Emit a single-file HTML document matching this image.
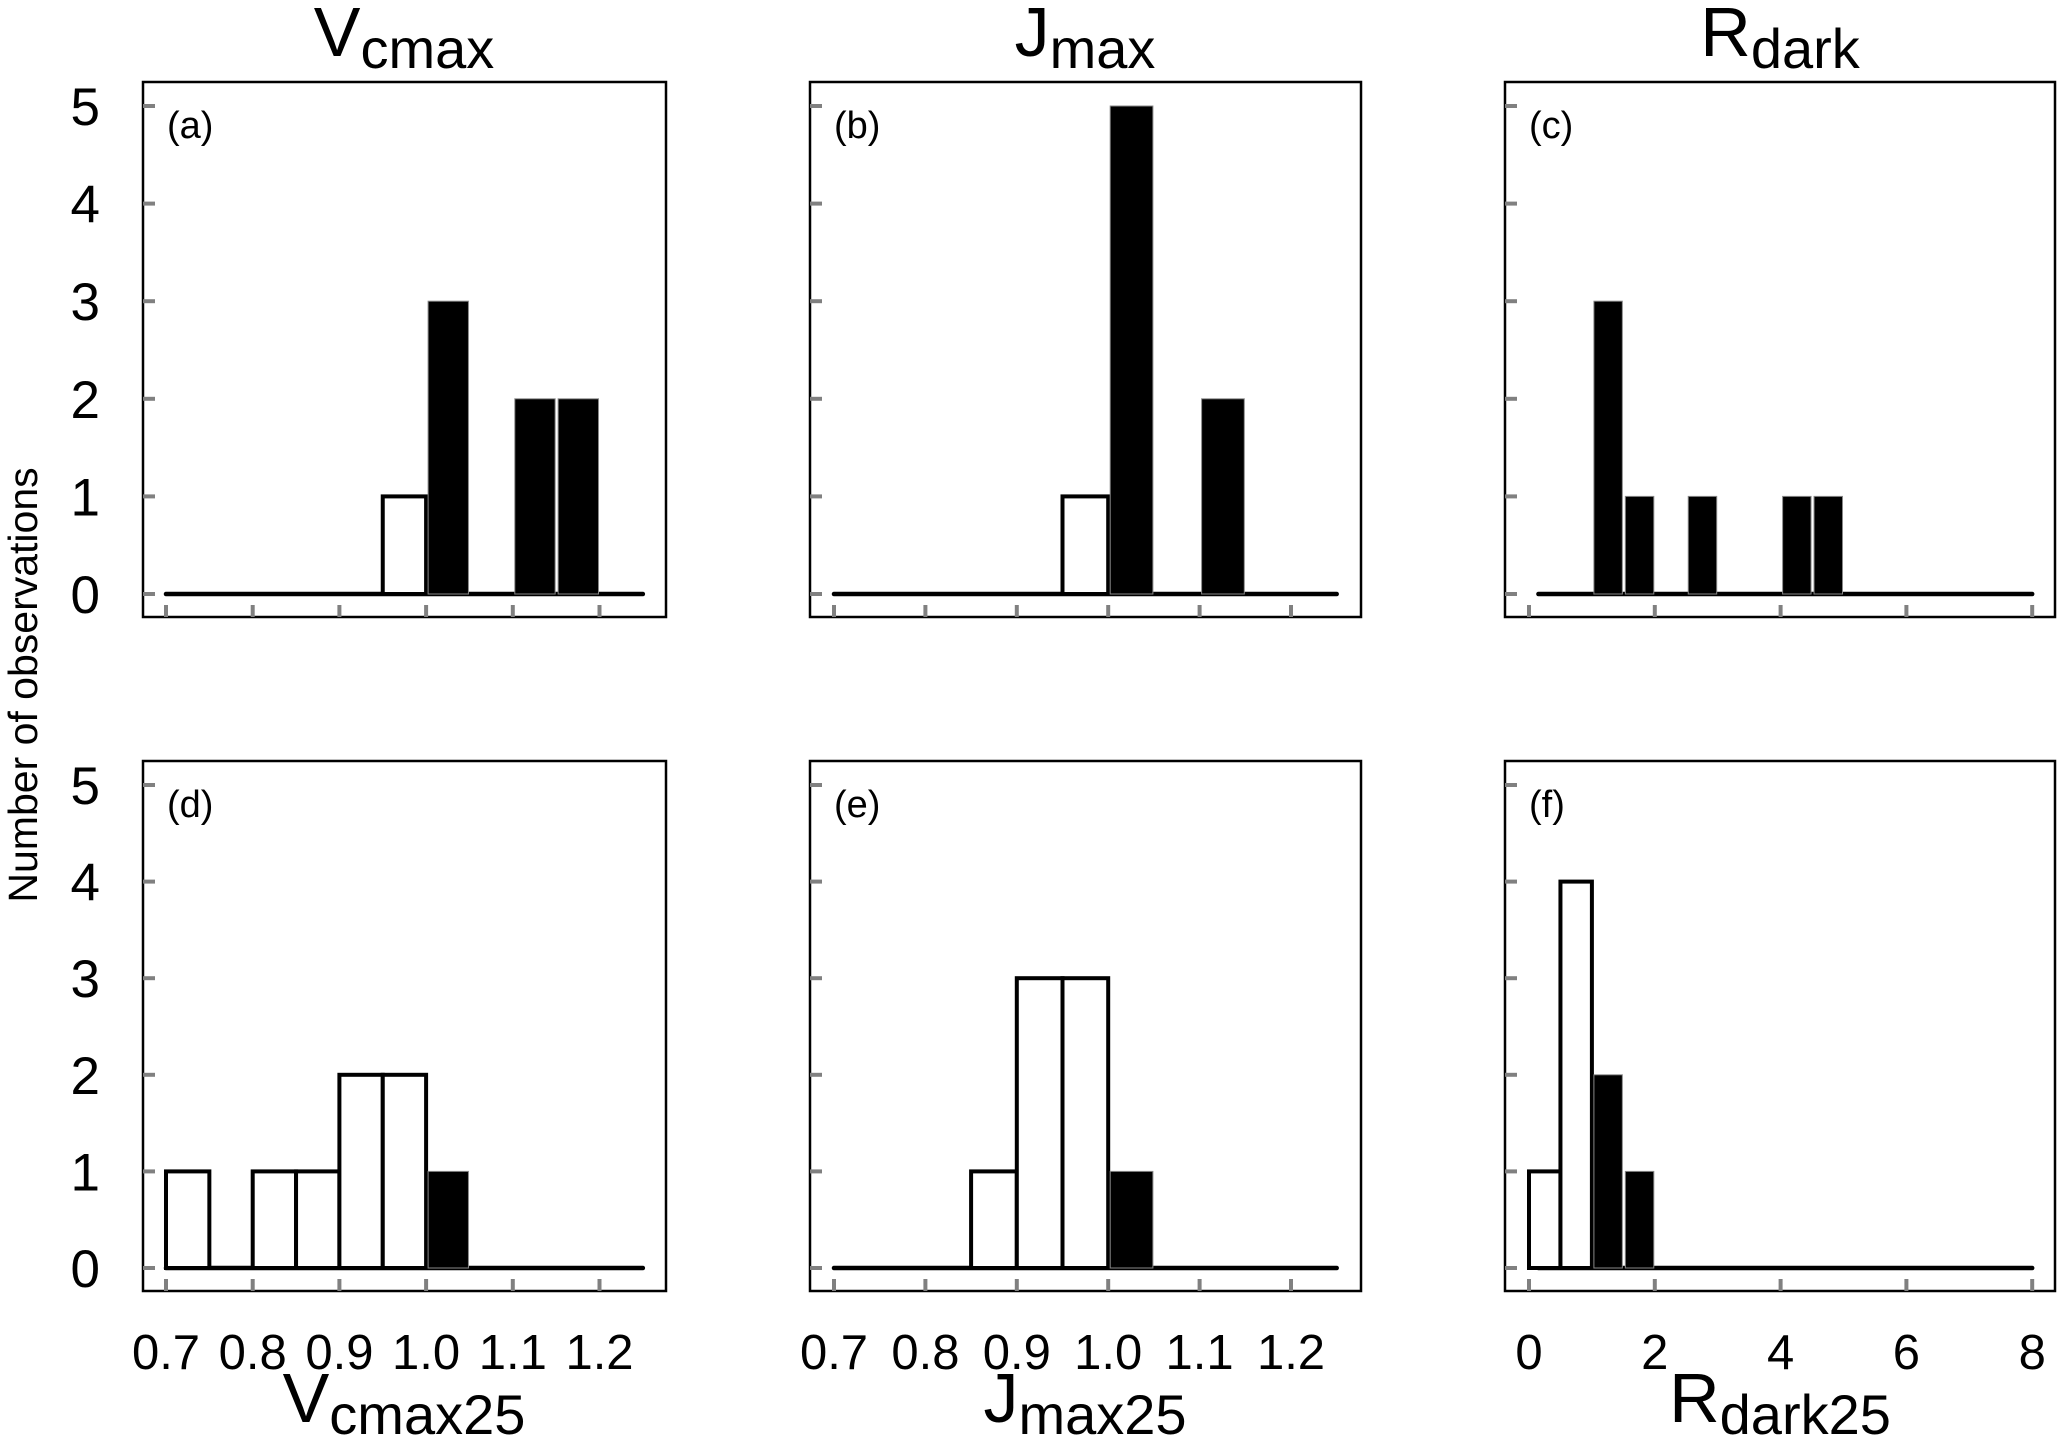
<!DOCTYPE html>
<html><head><meta charset="utf-8"><style>
html,body{margin:0;padding:0;background:#fff;}
svg{display:block;font-family:"Liberation Sans",Arial,sans-serif;}
</style></head><body>
<svg id="fig" width="2067" height="1451" viewBox="0 0 2067 1451" xmlns="http://www.w3.org/2000/svg">
<text transform="translate(37,685) rotate(-90)" text-anchor="middle" font-size="41">Number of observations</text>
</svg>
<script>
// ---- data ----
const yTicks = [0,1,2,3,4,5];
const ratioTickLabels = ["0.7","0.8","0.9","1.0","1.1","1.2"];
const ratioTicks = [0.7,0.8,0.9,1.0,1.1,1.2];
const rdarkTicks = [0,2,4,6,8];
const rdarkTickLabels = ["0","2","4","6","8"];
// bars: start, end, count, filled(1)/open(0)
const barsA_start = [0.95,1.00,1.10,1.15];
const barsA_end   = [1.00,1.05,1.15,1.20];
const barsA_count = [1,3,2,2];
const barsA_fill  = [0,1,1,1];
const barsB_start = [0.95,1.00,1.10];
const barsB_end   = [1.00,1.05,1.15];
const barsB_count = [1,5,2];
const barsB_fill  = [0,1,1];
const barsC_start = [1.0,1.5,2.5,4.0,4.5];
const barsC_end   = [1.5,2.0,3.0,4.5,5.0];
const barsC_count = [3,1,1,1,1];
const barsC_fill  = [1,1,1,1,1];
const barsD_start = [0.70,0.80,0.85,0.90,0.95,1.00];
const barsD_end   = [0.75,0.85,0.90,0.95,1.00,1.05];
const barsD_count = [1,1,1,2,2,1];
const barsD_fill  = [0,0,0,0,0,1];
const barsE_start = [0.85,0.90,0.95,1.00];
const barsE_end   = [0.90,0.95,1.00,1.05];
const barsE_count = [1,3,3,1];
const barsE_fill  = [0,0,0,1];
const barsF_start = [0.0,0.5,1.0,1.5];
const barsF_end   = [0.5,1.0,1.5,2.0];
const barsF_count = [1,4,2,1];
const barsF_fill  = [0,0,1,1];

const NS="http://www.w3.org/2000/svg";
const svg=document.getElementById('fig');
function mk(tag,attrs,parent){const e=document.createElementNS(NS,tag);for(const k in attrs)e.setAttribute(k,attrs[k]);(parent||svg).appendChild(e);return e;}

const cols=[
 {bx0:143,bx1:666,v0:0.7,p0:166,ppu:867,base0:0.7,base1:1.25,ticks:ratioTicks,labels:ratioTickLabels,ylab:true},
 {bx0:810,bx1:1361,v0:0.7,p0:834,ppu:914,base0:0.7,base1:1.25,ticks:ratioTicks,labels:ratioTickLabels,ylab:false},
 {bx0:1505,bx1:2055,v0:0,p0:1529,ppu:62.9,base0:0.15,base1:8,ticks:rdarkTicks,labels:rdarkTickLabels,ylab:false}
];
const rows=[
 {by0:82,by1:617,y0:594,ppc:97.6},
 {by0:761,by1:1291,y0:1268,ppc:96.6}
];
const panels=[
 {c:0,r:0,id:"a",s:barsA_start,e:barsA_end,n:barsA_count,f:barsA_fill},
 {c:1,r:0,id:"b",s:barsB_start,e:barsB_end,n:barsB_count,f:barsB_fill},
 {c:2,r:0,id:"c",s:barsC_start,e:barsC_end,n:barsC_count,f:barsC_fill},
 {c:0,r:1,id:"d",s:barsD_start,e:barsD_end,n:barsD_count,f:barsD_fill},
 {c:1,r:1,id:"e",s:barsE_start,e:barsE_end,n:barsE_count,f:barsE_fill},
 {c:2,r:1,id:"f",s:barsF_start,e:barsF_end,n:barsF_count,f:barsF_fill}
];
panels.forEach(p=>{
 const C=cols[p.c],R=rows[p.r];
 const xs=v=>C.p0+(v-C.v0)*C.ppu;
 const ys=v=>R.y0-v*R.ppc;
 const g=mk('g',{});
 
 
 const box=mk('rect',{x:C.bx0,y:R.by0,width:C.bx1-C.bx0,height:R.by1-R.by0,fill:'none',stroke:'#000','stroke-width':2.5},g);
 
 
 yTicks.forEach(t=>{
  const tk=mk('line',{x1:C.bx0,x2:C.bx0+12,y1:ys(t),y2:ys(t),stroke:'#808080','stroke-width':4},g);
  
  
  if(C.ylab){
   const tl=mk('text',{x:100,y:ys(t)+19,'text-anchor':'end','font-size':53},g);
   
   
   tl.textContent=t;
  }
 });
 C.ticks.forEach((t,i)=>{
  const tk=mk('line',{x1:xs(t),x2:xs(t),y1:R.by1,y2:R.by1-12,stroke:'#808080','stroke-width':4},g);
  
  
  if(p.r===1){
   const tl=mk('text',{x:xs(t),y:1369,'text-anchor':'middle','font-size':49},g);
   
   
   tl.textContent=C.labels[i];
  }
 });
 const bl=mk('line',{x1:xs(C.base0),x2:xs(C.base1),y1:ys(0),y2:ys(0),stroke:'#000','stroke-width':4.5,'stroke-linecap':'round'},g);
 
 
 p.s.forEach((s,i)=>{
  const x0=xs(s),x1=xs(p.e[i]),y=ys(p.n[i]);
  let r;
  if(p.f[i]){
   r=mk('rect',{x:x0+2,y:y,width:x1-x0-3,height:ys(0)-y,fill:'#000',stroke:'#888','stroke-width':1},g);
  } else {
   r=mk('rect',{x:x0,y:y,width:x1-x0,height:ys(0)-y,fill:'#fff',stroke:'#000','stroke-width':4},g);
  }
  
  
 });
 const lab=mk('text',{x:C.bx0+24,y:R.by0+56,'font-size':38},g);
 
 
 lab.textContent='('+p.id+')';
});
function title(cx,y,main,sub,name,big,small){
 const t=mk('text',{x:cx,y:y,'text-anchor':'middle'});
 
 
 const a=mk('tspan',{'font-size':big},t);a.textContent=main;
 const b=mk('tspan',{'font-size':small,dy:12},t);b.textContent=sub;
}
title(404,56,"V","cmax","title-vcmax",70,56);
title(1085,56,"J","max","title-jmax",70,56);
title(1780,56,"R","dark","title-rdark",70,56);
title(404,1422,"V","cmax25","x-axis-title-vcmax25",70,56);
title(1085,1422,"J","max25","x-axis-title-jmax25",70,56);
title(1780,1422,"R","dark25","x-axis-title-rdark25",70,56);
</script>
</body></html>
